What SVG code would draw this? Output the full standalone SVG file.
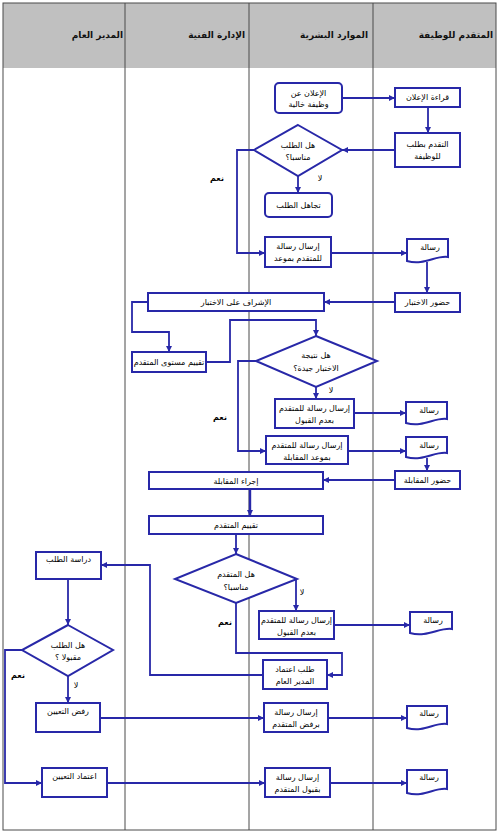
<svg xmlns="http://www.w3.org/2000/svg" width="500" height="834" viewBox="0 0 500 834">
<style>
.lane{fill:none;stroke:#4a4a4a;stroke-width:1}
.box{fill:#fff;stroke:#2828a8;stroke-width:2}
.ln{fill:none;stroke:#2828a8;stroke-width:1.8}
.t{font-family:"DejaVu Sans",sans-serif;font-size:8px;fill:#000;text-anchor:middle}
.h{font-family:"DejaVu Sans",sans-serif;font-size:9px;font-weight:bold;fill:#111;text-anchor:end}
.b{font-weight:bold}
</style>
<defs>
<marker id="ah" markerWidth="7" markerHeight="6" refX="6" refY="3" orient="auto" markerUnits="userSpaceOnUse">
<path d="M0,0 L6,3 L0,6 Z" fill="#2828a8"/>
</marker>
</defs>
<rect x="0" y="0" width="500" height="834" fill="#fff"/>
<g id="lanes">
<rect x="3" y="3" width="493" height="65" fill="#c0c0c0"/>
<rect class="lane" x="3" y="3" width="493" height="827"/>
<line class="lane" x1="125" y1="3" x2="125" y2="830"/>
<line class="lane" x1="249" y1="3" x2="249" y2="830"/>
<line class="lane" x1="373" y1="3" x2="373" y2="830"/>
<text class="h" x="493" y="38">المتقدم للوظيفة</text>
<text class="h" x="368" y="38">الموارد البشرية</text>
<text class="h" x="245" y="38">الإدارة الفنية</text>
<text class="h" x="123" y="38">المدير العام</text>
</g>
<g id="connectors" class="ln">
<path marker-end="url(#ah)" d="M342,98 H395"/>
<path marker-end="url(#ah)" d="M428,107 V133"/>
<path marker-end="url(#ah)" d="M395,150 H342"/>
<path marker-end="url(#ah)" d="M298,176 V193"/>
<path marker-end="url(#ah)" d="M254,150 H237 V253 H265"/>
<path marker-end="url(#ah)" d="M331,253 H407"/>
<path marker-end="url(#ah)" d="M427,262 V293"/>
<path marker-end="url(#ah)" d="M395,302 H324"/>
<path marker-end="url(#ah)" d="M148,302 H132 V332 H169 V352"/>
<path marker-end="url(#ah)" d="M206,362 H230 V320 H316 V336"/>
<path marker-end="url(#ah)" d="M316,387 V399"/>
<path marker-end="url(#ah)" d="M354,413 H406"/>
<path marker-end="url(#ah)" d="M256,361 H238 V451 H266"/>
<path marker-end="url(#ah)" d="M348,451 H406"/>
<path marker-end="url(#ah)" d="M427,458 V471"/>
<path marker-end="url(#ah)" d="M395,480 H323"/>
<path marker-end="url(#ah)" d="M250,489 V516" stroke-width="2.4"/>
<path marker-end="url(#ah)" d="M236,534 V554"/>
<path marker-end="url(#ah)" d="M296,579 V611"/>
<path marker-end="url(#ah)" d="M334,625 H410"/>
<path marker-end="url(#ah)" d="M236,603 V653 H342 V675 H327"/>
<path marker-end="url(#ah)" d="M263,675 H150 V565 H101"/>
<path marker-end="url(#ah)" d="M68,579 V625"/>
<path marker-end="url(#ah)" d="M68,676 V703"/>
<path marker-end="url(#ah)" d="M100,718 H264"/>
<path marker-end="url(#ah)" d="M328,718 H407"/>
<path marker-end="url(#ah)" d="M22,650 H5 V783 H42"/>
<path marker-end="url(#ah)" d="M107,783 H265"/>
<path marker-end="url(#ah)" d="M330,783 H407"/>
</g>
<g id="labels">
<text class="t" x="320" y="181">لا</text>
<text class="t b" x="217" y="181">نعم</text>
<text class="t" x="331" y="393">لا</text>
<text class="t b" x="220" y="420">نعم</text>
<text class="t" x="302" y="595">لا</text>
<text class="t b" x="225" y="625">نعم</text>
<text class="t" x="76" y="688">لا</text>
<text class="t b" x="18" y="678">نعم</text>
</g>
<g id="n1"><rect class="box" x="275" y="83" width="67" height="30" rx="4"/><text class="t" x="308.5" y="96">الإعلان عن</text><text class="t" x="308.5" y="107">وظيفة خالية</text></g>
<g id="n2"><rect class="box" x="395" y="88" width="65" height="19"/><text class="t" x="427.5" y="100">قراءة الإعلان</text></g>
<g id="n3"><rect class="box" x="395" y="133" width="65" height="34"/><text class="t" x="427.5" y="147">التقدم بطلب</text><text class="t" x="427.5" y="159">للوظيفة</text></g>
<g id="d1"><polygon class="box" points="298,125 342,150 298,176 254,150"/><text class="t" x="298" y="148">هل الطلب</text><text class="t" x="298" y="160">مناسبا؟</text></g>
<g id="n4"><rect class="box" x="265" y="193" width="67" height="24" rx="4"/><text class="t" x="298.5" y="208">تجاهل الطلب</text></g>
<g id="n5"><rect class="box" x="265" y="237" width="66" height="30"/><text class="t" x="298" y="249">إرسال رسالة</text><text class="t" x="298" y="261">للمتقدم بموعد</text></g>
<g id="doc1"><path class="box" d="M407,239 H448 V257 C436,255 424,266 407,261 Z"/><text class="t" x="430" y="250">رسالة</text></g>
<g id="n6"><rect class="box" x="395" y="293" width="65" height="19"/><text class="t" x="427.5" y="305">حضور الاختبار</text></g>
<g id="n7"><rect class="box" x="148" y="293" width="176" height="18"/><text class="t" x="236" y="305">الإشراف على الاختبار</text></g>
<g id="n8"><rect class="box" x="132" y="352" width="74" height="20"/><text class="t" x="169" y="365">تقييم مستوى المتقدم</text></g>
<g id="d2"><polygon class="box" points="316,336 377,361 316,387 256,361"/><text class="t" x="316" y="358">هل نتيجة</text><text class="t" x="316" y="371">الاختبار جيدة؟</text></g>
<g id="n9"><rect class="box" x="275" y="399" width="79" height="29"/><text class="t" x="314.5" y="411">إرسال رسالة للمتقدم</text><text class="t" x="314.5" y="423">بعدم القبول</text></g>
<g id="doc2"><path class="box" d="M406,402 H447 V419 C435,417 423,428 406,423 Z"/><text class="t" x="429" y="413">رسالة</text></g>
<g id="n10"><rect class="box" x="266" y="436" width="82" height="28"/><text class="t" x="307" y="448">إرسال رسالة للمتقدم</text><text class="t" x="307" y="460">بموعد المقابلة</text></g>
<g id="doc3"><path class="box" d="M406,437 H447 V453 C435,451 423,462 406,457 Z"/><text class="t" x="429" y="448">رسالة</text></g>
<g id="n11"><rect class="box" x="395" y="471" width="65" height="18"/><text class="t" x="427.5" y="483">حضور المقابلة</text></g>
<g id="n12"><rect class="box" x="149" y="472" width="174" height="17"/><text class="t" x="236" y="484">إجراء المقابلة</text></g>
<g id="n13"><rect class="box" x="149" y="516" width="174" height="18"/><text class="t" x="236" y="528">تقييم المتقدم</text></g>
<g id="d3"><polygon class="box" points="236,554 297,579 236,603 175,579"/><text class="t" x="236" y="577">هل المتقدم</text><text class="t" x="236" y="590">مناسبا؟</text></g>
<g id="n14"><rect class="box" x="259" y="611" width="75" height="28"/><text class="t" x="296.5" y="623">إرسال رسالة للمتقدم</text><text class="t" x="296.5" y="635">بعدم القبول</text></g>
<g id="doc4"><path class="box" d="M410,612 H452 V629 C440,627 427,638 410,633 Z"/><text class="t" x="433" y="623">رسالة</text></g>
<g id="n15"><rect class="box" x="263" y="660" width="64" height="29"/><text class="t" x="295" y="672">طلب اعتماد</text><text class="t" x="295" y="684">المدير العام</text></g>
<g id="n16"><rect class="box" x="36" y="552" width="65" height="27"/><text class="t" x="68.5" y="562">دراسة الطلب</text></g>
<g id="d4"><polygon class="box" points="68,625 113,650 68,676 22,650"/><text class="t" x="68" y="648">هل الطلب</text><text class="t" x="68" y="660">مقبولا ؟</text></g>
<g id="n17"><rect class="box" x="36" y="703" width="64" height="29"/><text class="t" x="68" y="714">رفض التعيين</text></g>
<g id="n18"><rect class="box" x="264" y="703" width="64" height="29"/><text class="t" x="296" y="715">إرسال رسالة</text><text class="t" x="296" y="727">برفض المتقدم</text></g>
<g id="doc5"><path class="box" d="M407,706 H447 V724 C435,722 424,733 407,728 Z"/><text class="t" x="429" y="716">رسالة</text></g>
<g id="n19"><rect class="box" x="42" y="768" width="65" height="29"/><text class="t" x="74.5" y="779">اعتماد التعيين</text></g>
<g id="n20"><rect class="box" x="265" y="768" width="65" height="29"/><text class="t" x="297.5" y="780">إرسال رسالة</text><text class="t" x="297.5" y="792">بقبول المتقدم</text></g>
<g id="doc6"><path class="box" d="M407,770 H447 V789 C435,787 424,798 407,793 Z"/><text class="t" x="429" y="780">رسالة</text></g>
</svg>
